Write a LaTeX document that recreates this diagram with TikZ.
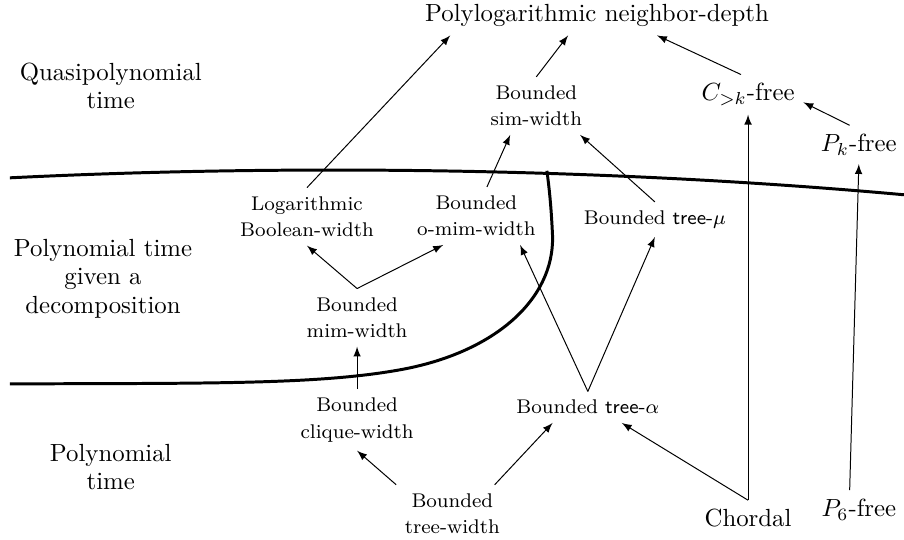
\documentclass[tikz,border=0pt]{standalone}
\begin{document}
\begin{tikzpicture}[>=latex, large/.style={align=center, font=\fontsize{10}{11.5}\selectfont}, small/.style={align=center, font=\fontsize{8}{10.7}\selectfont}, divider/.style={very thick}]
	\useasboundingbox (0,0) rectangle (12.81,7.65);
	\node[large] (PN) at (8.46,7.43) {Polylogarithmic neighbor-depth};
	\node[large] (QT) at (1.57,6.43) {Quasipolynomial\\time};
	\node[large] (PD) at (1.46,3.70) {Polynomial time\\given a\\decomposition};
	\node[large] (PT) at (1.57,1.03) {Polynomial\\time};
	\node[small] (SW) at (7.60,6.15) {Bounded\\sim-width};
	\node[large] (CK) at (10.60,6.31) {$C_{>k}$-free};
	\node[large] (PK) at (12.17,5.60) {$P_k$-free};
	\node[small] (BW) at (4.35,4.58) {Logarithmic\\Boolean-width};
	\node[small] (OM) at (6.75,4.59) {Bounded\\o-mim-width};
	\node[small] (TM) at (9.28,4.54) {Bounded \textsf{tree-}$\mu$};
	\node[small] (MW) at (5.06,3.15) {Bounded\\mim-width};
	\node[small] (CW) at (5.06,1.70) {Bounded\\clique-width};
	\node[small] (TA) at (8.33,1.88) {Bounded \textsf{tree-}$\alpha$};
	\node[small] (TW) at (6.41,0.37) {Bounded\\tree-width};
	\node[large] (CH) at (10.60,0.31) {Chordal};
	\node[large] (P6) at (12.17,0.43) {$P_6$-free};
	\draw[divider] (0.14,5.13) .. controls (4,5.32) and (8.5,5.28) .. (12.81,4.89);
	\draw[divider] (0.14,2.21) .. controls (3,2.22) and (4.5,2.2) .. (5.67,2.41) .. controls (7.0,2.65) and (7.85,3.4) .. (7.83,4.3) .. controls (7.81,4.75) and (7.78,5.0) .. (7.75,5.23);
	\draw[->] (BW.north) -- ([xshift=-2.08cm]PN.south);
	\draw[->] (SW.north) -- ([xshift=-0.41cm]PN.south);
	\draw[->] ([xshift=-0.1cm]CK.north) -- ([xshift=0.85cm]PN.south);
	\draw[->] ([xshift=0.15cm]OM.north) -- ([xshift=-0.37cm]SW.south);
	\draw[->] (TM.north) -- ([xshift=0.62cm]SW.south);
	\draw[->] ([xshift=-0.13cm]PK.north) -- ([yshift=-0.11cm]CK.east);
	\draw[->] (CH.north) -- (CK.south);
	\draw[->] (MW.north) -- (BW.south);
	\draw[->] (MW.north) -- ([xshift=-0.47cm]OM.south);
	\draw[->] (CW.north) -- (MW.south);
	\draw[->] (TA.north) -- ([xshift=0.62cm]OM.south);
	\draw[->] (TA.north) -- (TM.south);
	\draw[->] (TW.north west) -- (CW.south);
	\draw[->] ([xshift=0.6cm]TW.north) -- ([xshift=-0.5cm]TA.south);
	\draw[->] (CH.north) -- ([xshift=0.48cm]TA.south);
	\draw[->] ([xshift=-0.13cm]P6.north) -- (PK.south);
\end{tikzpicture}
\end{document}
